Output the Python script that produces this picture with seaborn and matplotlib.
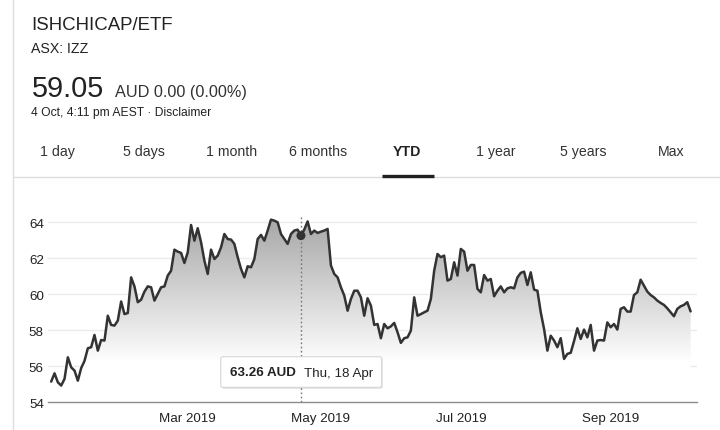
import numpy as np
import pandas as pd
import matplotlib
matplotlib.use("Agg")
import matplotlib.pyplot as plt
import seaborn as sns
from matplotlib.patches import FancyBboxPatch
from matplotlib.lines import Line2D

# ---------------- data ----------------
title = "ISHCHICAP/ETF"
exchange = "ASX: IZZ"
last_price = "59.05"
change_text = "AUD 0.00 (0.00%)"
timestamp = "4 Oct, 4:11 pm AEST · Disclaimer"
tabs = ["1 day", "5 days", "1 month", "6 months", "YTD", "1 year", "5 years", "Max"]
active_tab = "YTD"

holidays = ["2019-01-28", "2019-04-19", "2019-04-22", "2019-04-25", "2019-06-10"]
prices = [
    55.15, 55.61, 55.11, 54.93, 55.30, 56.50, 55.94, 55.76, 55.20, 55.90,
    56.30, 57.00, 57.06, 57.74, 56.87, 57.46, 57.43, 58.81, 58.30, 58.26,
    58.54, 59.60, 58.90, 58.96, 60.94, 60.44, 59.56, 59.70, 60.15, 60.44,
    60.39, 59.65, 60.02, 60.39, 60.44, 61.04, 61.31, 62.48, 62.37, 62.30,
    61.74, 62.33, 63.85, 62.98, 63.67, 62.89, 61.87, 61.13, 62.48, 61.96,
    62.15, 62.61, 63.35, 63.07, 63.04, 62.80, 62.06, 61.41, 60.94, 61.56,
    61.50, 61.96, 63.07, 63.30, 62.98, 63.54, 64.15, 64.09, 64.00, 63.35,
    63.07, 62.80, 63.35, 63.54, 63.59, 63.26, 63.60, 64.05, 63.35, 63.54,
    63.41, 63.48, 63.54, 63.63, 61.60, 61.13, 60.94, 60.39, 59.93, 59.09,
    59.74, 60.20, 60.20, 59.83, 58.81, 59.78, 59.37, 58.30, 58.35, 57.56,
    58.35, 58.11, 58.22, 58.41, 57.89, 57.30, 57.56, 57.61, 57.98, 59.83,
    58.81, 58.90, 59.00, 59.09, 59.74, 61.31, 62.24, 62.06, 62.15, 60.76,
    60.85, 61.78, 61.04, 62.52, 62.37, 61.31, 61.63, 61.63, 60.30, 60.11,
    61.07, 60.76, 60.85, 59.89, 60.20, 60.44, 60.11, 60.33, 60.39, 60.33,
    60.94, 61.19, 61.26, 60.52, 61.22, 60.26, 60.20, 59.00, 58.07, 56.87,
    57.70, 57.43, 57.06, 57.56, 56.41, 56.69, 56.75, 57.40, 58.11, 57.52,
    58.04, 57.61, 58.30, 56.87, 57.43, 57.46, 57.43, 58.44, 58.17, 58.35,
    58.04, 59.19, 59.28, 59.04, 59.04, 59.96, 60.11, 60.81, 60.48, 60.15,
    59.96, 59.83, 59.65, 59.52, 59.41, 59.22, 59.00, 58.78, 59.19, 59.33,
    59.41, 59.56, 59.05,
]
tick_months = ["2019-03", "2019-05", "2019-07", "2019-09"]
tick_labels = ["Mar 2019", "May 2019", "Jul 2019", "Sep 2019"]
y_ticks = [54, 56, 58, 60, 62, 64]
highlight_date = "2019-04-18"
currency = "AUD"

# ---------------- build frame ----------------
dates = pd.bdate_range("2019-01-02", "2019-10-04", freq="C", holidays=holidays)
n = min(len(dates), len(prices))
df = pd.DataFrame({"idx": np.arange(n), "date": dates[:n], "price": prices[:n]})

sns.set_style("white")
plt.rcParams["font.family"] = ["Liberation Sans", "DejaVu Sans"]

W, H = 720, 431
fig = plt.figure(figsize=(W / 100, H / 100), dpi=100)
fig.patch.set_facecolor("white")


def fx(x):
    return x / W


def fy(y):
    return 1 - y / H


# ---------------- header ----------------
dark = "#222222"
fig.text(fx(31.5), fy(30), title, fontsize=13.4, color=dark, va="baseline", ha="left")
fig.text(fx(31.5), fy(52.7), exchange, fontsize=10.2, color=dark, va="baseline", ha="left")
fig.text(fx(31.5), fy(96.7), last_price, fontsize=20.8, color=dark, va="baseline", ha="left")
fig.text(fx(115), fy(96.7), change_text, fontsize=11.7, color="#333333", va="baseline", ha="left")
fig.text(fx(31.5), fy(116), timestamp, fontsize=8.7, color=dark, va="baseline", ha="left")

tab_centers = [57, 143.5, 232, 318, 407, 495.5, 583, 671]
for t, cx in zip(tabs, tab_centers):
    fig.text(fx(cx), fy(156), t, fontsize=10.2, color=dark if t == active_tab else "#333333",
             va="baseline", ha="center", fontweight="bold" if t == active_tab else "normal")

fig.add_artist(Line2D([fx(13), fx(720)], [fy(177.5), fy(177.5)], color="#dcdcdc", lw=1))
fig.add_artist(Line2D([fx(381.7), fx(434)], [fy(176.5), fy(176.5)], color="#202020", lw=2.4,
                      solid_capstyle="butt"))
fig.add_artist(Line2D([fx(12.7), fx(12.7)], [0, 1], color="#dddddd", lw=1))

# ---------------- chart ----------------
ax_left, ax_right = 48, 697
ax_top, ax_bottom = 205.3, 403.3
ax = fig.add_axes([fx(ax_left), fy(ax_bottom), (ax_right - ax_left) / W, (ax_bottom - ax_top) / H])
ax.set_facecolor("none")

px_per_day = (690.6 - 51.2) / (n - 1)
xmin = -(51.2 - ax_left) / px_per_day
xmax = (n - 1) + (ax_right - 690.6) / px_per_day
ymin = 54
ymax = 64 + (223.3 - ax_top) / 18.0

# gradient fill under line
yy = np.linspace(ymin, 64.4, 400)
g = np.clip(0.993 - (yy - 56.3) * 0.043, 0.62, 1.0)
g[yy < 56.3] = 1.0
img_arr = np.dstack([g, g, g]).reshape(-1, 1, 3)
img = ax.imshow(img_arr, extent=[0, n - 1, ymin, 64.4], origin="lower", aspect="auto",
                zorder=1, interpolation="bilinear")
poly = ax.fill_between(df["idx"], df["price"], ymin, color="none", lw=0)
img.set_clip_path(poly.get_paths()[0], transform=ax.transData)

# grid
for yt in y_ticks[1:]:
    ax.axhline(yt, color="#ebebeb", lw=1, zorder=0.5)

# highlight
hi = int(np.where(df["date"] == pd.Timestamp(highlight_date))[0][0])
hv = df["price"].iloc[hi]
ax.plot([hi, hi], [ymin, 64.3], color="#777777", lw=1, linestyle=(0, (1.2, 1.8)), zorder=2)

sns.lineplot(data=df, x="idx", y="price", color="#333333", linewidth=1.8, ax=ax, zorder=3)
sns.scatterplot(x=[hi], y=[hv], color="#333333", s=42, edgecolor="none", ax=ax, zorder=4)

ax.set_xlim(xmin, xmax)
ax.set_ylim(ymin, ymax)

tick_pos = [int(np.where(df["date"].dt.strftime("%Y-%m") == m)[0][0]) for m in tick_months]
ax.set_xticks(tick_pos)
ax.set_xticklabels(tick_labels)
ax.set_yticks(y_ticks)
ax.set_yticklabels([str(v) for v in y_ticks])
ax.set_xlabel("")
ax.set_ylabel("")
ax.tick_params(axis="x", length=5, width=1, color="#8c8c8c", labelsize=9.6, labelcolor="#222222", pad=2)
ax.tick_params(axis="y", length=0, labelsize=9.6, labelcolor="#222222", pad=3)

for s in ["top", "right", "left"]:
    ax.spines[s].set_visible(False)
ax.spines["bottom"].set_color("#8c8c8c")
ax.spines["bottom"].set_linewidth(1)

# ---------------- tooltip ----------------
bx0, bx1, by0, by1 = 220.7, 381.7, 357.7, 388.3
shadow = FancyBboxPatch((fx(bx0 + 1), fy(by1 + 1.5)), fx(bx1 - bx0), (by1 - by0) / H,
                        boxstyle="round,pad=0,rounding_size=0.004", transform=fig.transFigure,
                        facecolor="#000000", alpha=0.12, edgecolor="none", zorder=5)
fig.add_artist(shadow)
box = FancyBboxPatch((fx(bx0), fy(by1)), fx(bx1 - bx0), (by1 - by0) / H,
                     boxstyle="round,pad=0,rounding_size=0.004", transform=fig.transFigure,
                     facecolor="white", edgecolor="#d6d6d6", lw=0.8, zorder=6)
fig.add_artist(box)
hd = df["date"].iloc[hi]
fig.text(fx(230), fy(376.5), f"{hv:.2f} {currency}", fontsize=9.6, fontweight="bold",
         color="#222222", va="baseline", ha="left", zorder=7)
fig.text(fx(304), fy(376.5), f"{hd:%a}, {hd.day} {hd:%b}", fontsize=9.6,
         color="#222222", va="baseline", ha="left", zorder=7)

fig.savefig("out.png", dpi=100, facecolor="white")
